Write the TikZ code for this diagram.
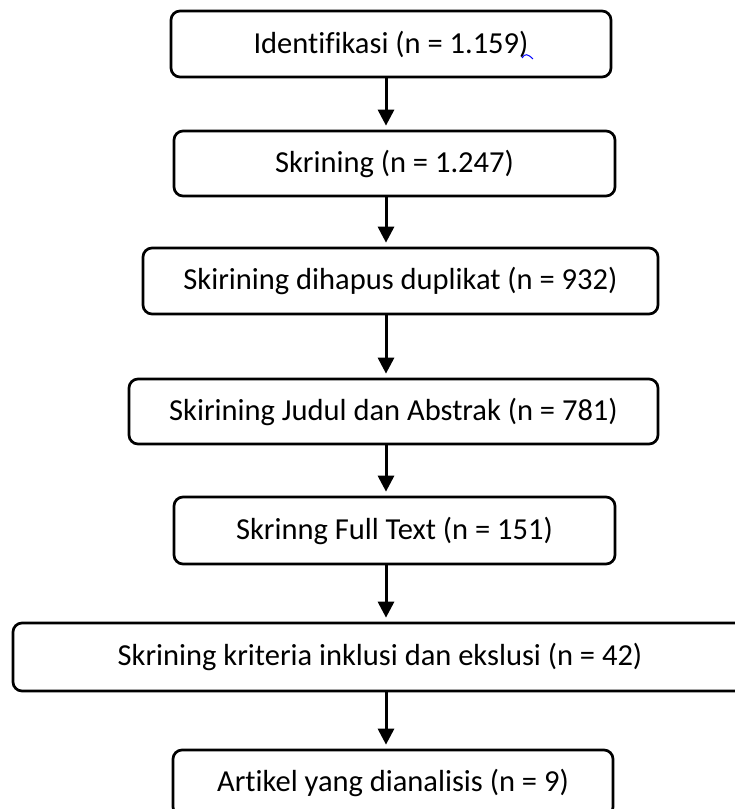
\documentclass[tikz,border=0pt]{standalone}
\usepackage{fontspec}
\setmainfont{Carlito}[Ligatures=NoCommon]
\usetikzlibrary{arrows.meta, positioning, calc}

\begin{document}
\begin{tikzpicture}[x=1pt, y=-1pt,
            kotak/.style={draw, rectangle, rounded corners=9pt, line width=2.7pt, minimum height=66pt, inner sep=0pt, font=\fontsize{30.5}{36}\selectfont},
            panah/.style={-{Triangle[length=16pt, width=16pt]}, line width=3pt, shorten >=4pt}]
            \useasboundingbox (0,0) rectangle (735,809);
            \clip (0,0) rectangle (735,809);
            \node[kotak, minimum width=440pt] (idn) at (391,44) {Identifikasi (n = 1.159)};
            \node[kotak, minimum width=441pt, minimum height=65pt] (skr) at (394.5,163.5) {Skrining (n = 1.247)};
            \node[kotak, minimum width=515pt] (dup) at (400.5,281) {Skirining dihapus duplikat (n = 932)};
            \node[kotak, minimum width=529pt, minimum height=65pt] (jud) at (393.5,411.5) {Skirining Judul dan Abstrak (n = 781)};
            \node[kotak, minimum width=441pt, minimum height=67pt] (full) at (394.5,530.5) {Skrinng Full Text (n = 151)};
            \node[kotak, minimum width=734pt, minimum height=68pt] (krit) at (380,657) {Skrining kriteria inklusi dan ekslusi (n = 42)};
            \node[kotak, minimum width=440pt] (art) at (393,783) {Artikel yang dianalisis (n = 9)};
            % tanda biru kecil di belakang angka
            \draw[blue, line width=1pt] (522,58) .. controls (525,53) and (528,54) .. (533,59);
            \coordinate (sumbu) at (386,0);
            \draw[panah] (idn.south -| sumbu) -- (skr.north -| sumbu);
            \draw[panah] (skr.south -| sumbu) -- (dup.north -| sumbu);
            \draw[panah] (dup.south -| sumbu) -- (jud.north -| sumbu);
            \draw[panah] (jud.south -| sumbu) -- (full.north -| sumbu);
            \draw[panah] (full.south -| sumbu) -- (krit.north -| sumbu);
            \draw[panah] (krit.south -| sumbu) -- (art.north -| sumbu);
        \end{tikzpicture}
\end{document}
